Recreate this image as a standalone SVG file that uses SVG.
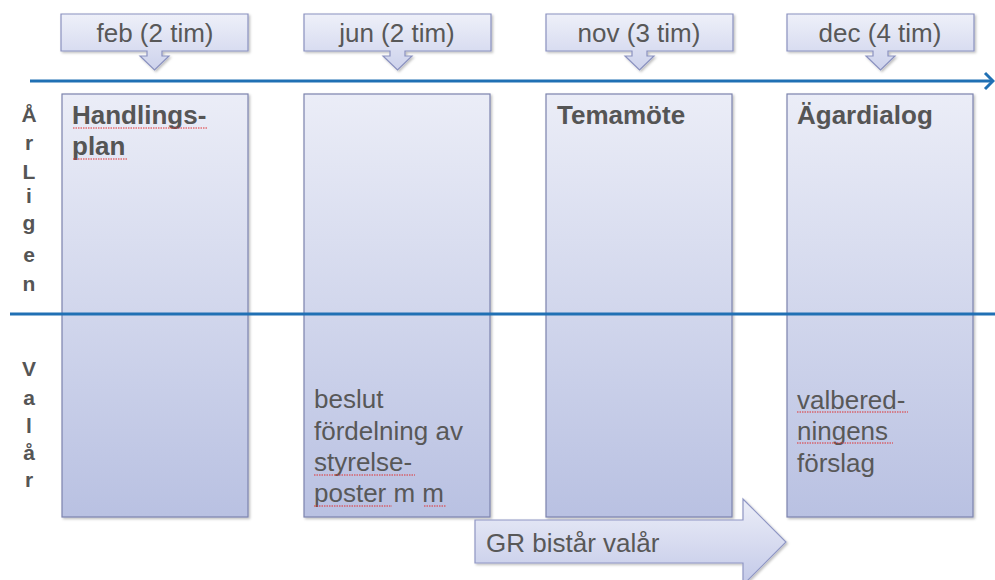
<svg xmlns="http://www.w3.org/2000/svg" width="995" height="580" viewBox="0 0 995 580">
<defs>
  <linearGradient id="colGrad" x1="0" y1="0" x2="0" y2="1">
    <stop offset="0" stop-color="#ebedf7"/>
    <stop offset="1" stop-color="#b9c1e2"/>
  </linearGradient>
  <linearGradient id="calloutGrad" x1="0" y1="0" x2="0" y2="1">
    <stop offset="0" stop-color="#eef0f9"/>
    <stop offset="1" stop-color="#cdd2ec"/>
  </linearGradient>
  <linearGradient id="arrowGrad" x1="0" y1="0" x2="0" y2="1">
    <stop offset="0" stop-color="#eceef8"/>
    <stop offset="1" stop-color="#c3c9e8"/>
  </linearGradient>
  <filter id="shadow" x="-5%" y="-5%" width="115%" height="115%">
    <feDropShadow dx="1.5" dy="1.5" stdDeviation="1.2" flood-color="#000" flood-opacity="0.25"/>
  </filter>
  <path id="callout" d="M0,0 H187 V37 H101 V42 H108 L93.5,56 L79,42 H86 V37 H0 Z"/>
</defs>
<style>
  .col { fill: url(#colGrad); stroke: #7c83ad; stroke-width: 1.2; filter: url(#shadow); }
  .callout { fill: url(#calloutGrad); stroke: #8a91bf; stroke-width: 1.2; filter: url(#shadow); }
  .ctext { font-family: "Liberation Sans", Arial, sans-serif; font-size: 26px; fill: #585858; text-anchor: middle; }
  .title { font-family: "Liberation Sans", Arial, sans-serif; font-size: 26px; font-weight: bold; fill: #555555; }
  .body { font-family: "Liberation Sans", Arial, sans-serif; font-size: 26px; fill: #585858; }
  .side { font-family: "Liberation Sans", Arial, sans-serif; font-size: 21px; font-weight: bold; fill: #555555; text-anchor: middle; }
  .line { stroke: #2070b4; stroke-width: 3; fill: none; }
  .spell { stroke: #e03030; stroke-width: 1; fill: none; stroke-dasharray: 1.5 1; }
</style>

<!-- columns -->
<g id="col-feb"><rect class="col" x="62" y="94" width="186" height="423"/></g>
<g id="col-jun"><rect class="col" x="304" y="94" width="186" height="423"/></g>
<g id="col-nov"><rect class="col" x="546" y="94" width="186" height="423"/></g>
<g id="col-dec"><rect class="col" x="787" y="94" width="186" height="423"/></g>

<!-- connectors / timeline lines -->
<g id="connectors">
  <line class="line" x1="30" y1="81" x2="993" y2="81"/>
  <polyline class="line" points="985,73 993,81 985,89" stroke-width="2.5"/>
  <line class="line" x1="10" y1="314" x2="995" y2="314"/>
</g>

<!-- callouts -->
<g id="callout-feb">
  <use href="#callout" class="callout" x="61" y="14"/>
  <text class="ctext" x="155" y="42">feb (2 tim)</text>
</g>
<g id="callout-jun">
  <use href="#callout" class="callout" x="304" y="14"/>
  <text class="ctext" x="397" y="42">jun (2 tim)</text>
</g>
<g id="callout-nov">
  <use href="#callout" class="callout" x="546" y="14"/>
  <text class="ctext" x="639" y="42">nov (3 tim)</text>
</g>
<g id="callout-dec">
  <use href="#callout" class="callout" x="787" y="14"/>
  <text class="ctext" x="880" y="42">dec (4 tim)</text>
</g>

<!-- side labels -->
<g id="label-arligen">
  <text class="side" x="29" y="122">Å</text>
  <text class="side" x="29" y="150">r</text>
  <text class="side" x="29" y="179">L</text>
  <text class="side" x="29" y="203">i</text>
  <text class="side" x="29" y="230">g</text>
  <text class="side" x="29" y="262">e</text>
  <text class="side" x="29" y="291">n</text>
</g>
<g id="label-valar">
  <text class="side" x="29" y="376">V</text>
  <text class="side" x="29" y="405">a</text>
  <text class="side" x="29" y="433">l</text>
  <text class="side" x="29" y="460">å</text>
  <text class="side" x="29" y="487">r</text>
</g>

<!-- column texts -->
<g id="text-feb">
  <text class="title" x="72" y="124">Handlings-</text>
  <text class="title" x="72" y="155">plan</text>
</g>
<g id="text-nov">
  <text class="title" x="557" y="124">Temamöte</text>
</g>
<g id="text-dec">
  <text class="title" x="797" y="124">Ägardialog</text>
</g>
<g id="text-jun">
  <text class="body" x="314" y="408">beslut</text>
  <text class="body" x="314" y="440">fördelning av</text>
  <text class="body" x="314" y="471">styrelse-</text>
  <text class="body" x="314" y="502">poster m m</text>
</g>
<g id="text-dec-bottom">
  <text class="body" x="797" y="409">valbered-</text>
  <text class="body" x="797" y="440">ningens</text>
  <text class="body" x="797" y="472">förslag</text>
</g>

<!-- spell-check underlines -->
<g id="spellcheck">
  <path class="spell" d="M73,128 H208"/>
  <path class="spell" d="M73,159 H127"/>
  <path class="spell" d="M314,475 H415"/>
  <path class="spell" d="M314,506 H392"/>
  <path class="spell" d="M424,506 H446"/>
  <path class="spell" d="M797,412 H908"/>
  <path class="spell" d="M797,443 H893"/>
  <path class="spell" d="M486,556 H527"/>
</g>

<!-- bottom arrow -->
<g id="arrow-gr">
  <path d="M475,520 H743 V499 L786,542 L743,585 V563 H475 Z" fill="url(#arrowGrad)" stroke="#8f96c4" stroke-width="1.2" filter="url(#shadow)"/>
  <text class="body" x="486" y="552">GR bistår valår</text>
</g>
</svg>
